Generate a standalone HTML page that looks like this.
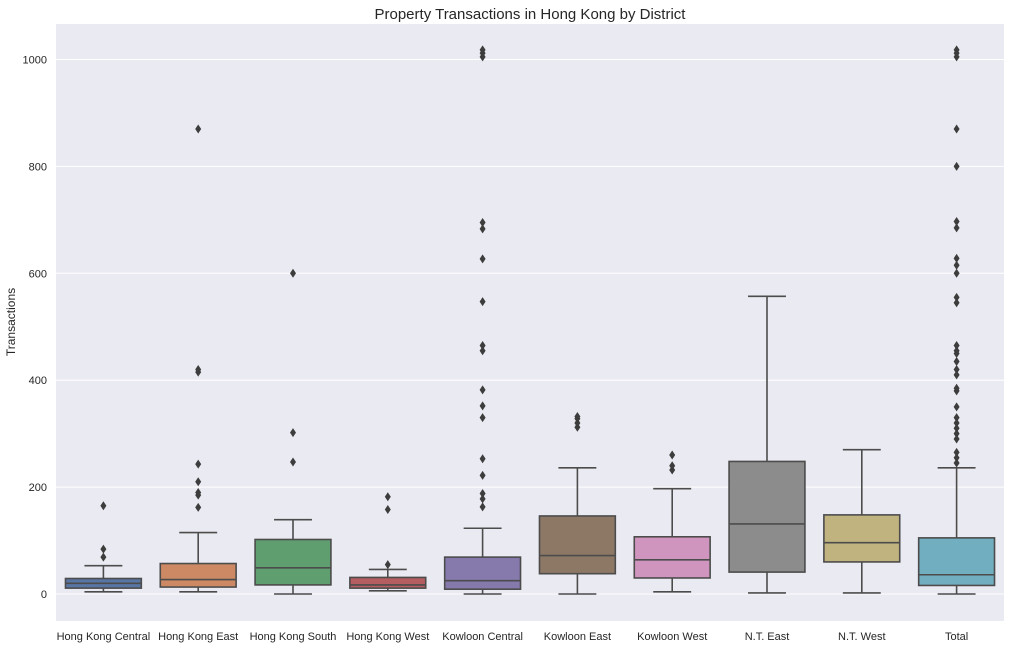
<!DOCTYPE html>
<html><head><meta charset="utf-8"><style>
body{margin:0;background:#fff;}
svg{display:block;font-family:"Liberation Sans",Arial,sans-serif;}
</style></head><body>
<svg id="chart" width="1017" height="648">
<rect x="56" y="24" width="948" height="597" fill="#eaeaf2"/>
<g id="grid"></g><g id="boxes"></g><g id="yticks"></g><g id="xticks"></g>
<text x="530" y="19" font-size="15" fill="#262626" text-anchor="middle">Property Transactions in Hong Kong by District</text>
<text transform="translate(15,322) rotate(-90)" font-size="12" fill="#262626" text-anchor="middle">Transactions</text>
</svg>
<script>
const categories=["Hong Kong Central","Hong Kong East","Hong Kong South","Hong Kong West","Kowloon Central","Kowloon East","Kowloon West","N.T. East","N.T. West","Total"];
const colors=["#5875a4","#cc8963","#5f9e6e","#b55d60","#857aab","#8d7866","#d095bf","#8c8c8c","#c1b37f","#71aec0"];
const whiskLow=[4,4,0,6,0,0,4,2,2,0];
const q1=[11,13,17,11,9,38,30,41,60,16];
const medians=[20,27,49,17,25,72,64,131,96,36];
const q3=[29,57,102,31,69,146,107,248,148,105];
const whiskHigh=[53,115,139,46,123,236,197,557,270,236];
const outliers=[
[69,84,165],
[162,185,190,210,243,415,420,870],
[247,302,600],
[55,158,182],
[163,178,188,222,253,330,352,382,455,465,547,627,683,695,1005,1012,1018],
[312,320,328,332],
[232,240,260],
[],
[],
[245,255,265,290,300,310,320,330,350,380,385,410,420,435,450,455,465,545,555,600,615,628,685,697,800,870,1005,1012,1018]
];
const yTicks=[0,200,400,600,800,1000];
const NS="http://www.w3.org/2000/svg";
const X0=56,X1=1004,band=(X1-X0)/categories.length;
const y=v=>594-v*0.5345;
const xc=i=>X0+band*(i+0.5);
function mk(tag,attrs,parent){const e=document.createElementNS(NS,tag);for(const k in attrs)e.setAttribute(k,attrs[k]);parent.appendChild(e);return e;}
const grid=document.getElementById('grid'),yt=document.getElementById('yticks'),xt=document.getElementById('xticks'),bx=document.getElementById('boxes');
yTicks.forEach(t=>{
 const l=mk('line',{x1:X0,x2:X1,y1:y(t),y2:y(t),stroke:'#fff','stroke-width':1},grid);
 
 
 const tx=mk('text',{x:47,y:y(t)+4,'font-size':11,fill:'#262626','text-anchor':'end'},yt);
 tx.textContent=t;
 
 
});
const lc='#4c4c4c';
categories.forEach((c,i)=>{
 const g=mk('g',{},bx);
 
 
 const cx=xc(i),w=band*0.8,cw=w/2;
 mk('line',{x1:cx,x2:cx,y1:y(whiskLow[i]),y2:y(q1[i]),stroke:lc,'stroke-width':1.6},g);
 mk('line',{x1:cx,x2:cx,y1:y(q3[i]),y2:y(whiskHigh[i]),stroke:lc,'stroke-width':1.6},g);
 mk('line',{x1:cx-cw/2,x2:cx+cw/2,y1:y(whiskLow[i]),y2:y(whiskLow[i]),stroke:lc,'stroke-width':1.6},g);
 mk('line',{x1:cx-cw/2,x2:cx+cw/2,y1:y(whiskHigh[i]),y2:y(whiskHigh[i]),stroke:lc,'stroke-width':1.6},g);
 mk('rect',{x:cx-w/2,y:y(q3[i]),width:w,height:y(q1[i])-y(q3[i]),fill:colors[i],stroke:lc,'stroke-width':1.6},g);
 mk('line',{x1:cx-w/2,x2:cx+w/2,y1:y(medians[i]),y2:y(medians[i]),stroke:lc,'stroke-width':1.6},g);
 outliers[i].forEach(v=>{
  const yy=y(v);
  const p=mk('polygon',{points:`${cx},${yy-4.5} ${cx+3},${yy} ${cx},${yy+4.5} ${cx-3},${yy}`,fill:'#3d3d3d'},g);
  
  
 });
 const tx=mk('text',{x:cx,y:640,'font-size':11,fill:'#262626','text-anchor':'middle'},xt);
 tx.textContent=c;
 
 
});
</script>
</body></html>
